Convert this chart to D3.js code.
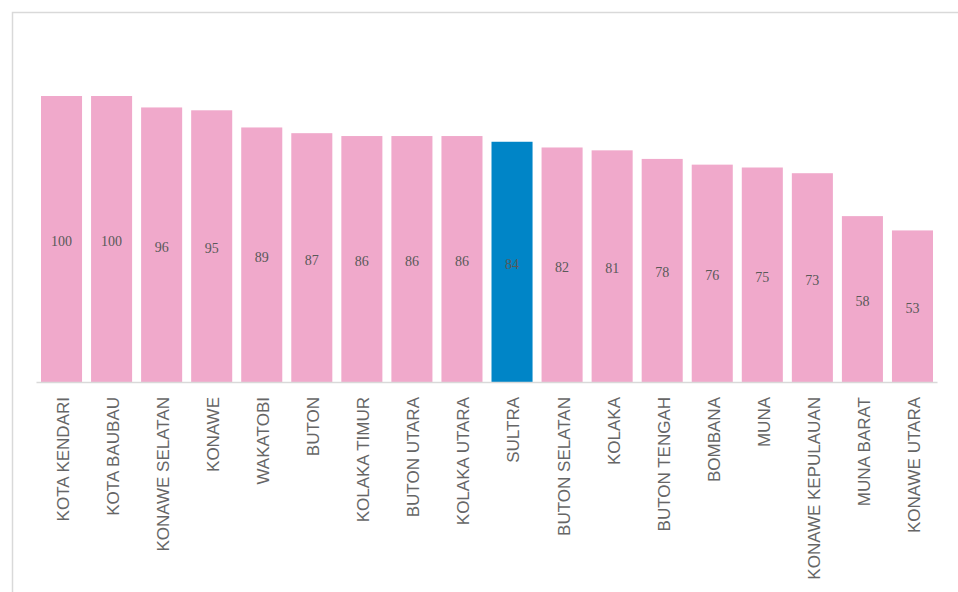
<!DOCTYPE html>
<html>
<head>
<meta charset="utf-8">
<style>
body { margin:0; background:#fff; }
svg { display:block; }
</style>
</head>
<body>
<svg id="svg"></svg>
<script src="https://cdnjs.cloudflare.com/ajax/libs/d3/7.8.5/d3.min.js"></script>
<script>
var categories = ['KOTA KENDARI','KOTA BAUBAU','KONAWE SELATAN','KONAWE','WAKATOBI','BUTON',
  'KOLAKA TIMUR','BUTON UTARA','KOLAKA UTARA','SULTRA','BUTON SELATAN','KOLAKA',
  'BUTON TENGAH','BOMBANA','MUNA','KONAWE KEPULAUAN','MUNA BARAT','KONAWE UTARA']
var values = [100,100,96,95,89,87,86,86,86,84,82,81,78,76,75,73,58,53]
var highlight = 'SULTRA'

var width = 958, height = 592
var chart = d3.select('#svg').attr('width', width).attr('height', height)

// outer frame (only top and left visible)
chart.append('rect')
  .attr('x', 12.5).attr('y', 12.5)
  .attr('width', 958).attr('height', 600)
  .attr('fill', 'none').attr('stroke', '#d9d9d9').attr('stroke-width', 1.5)

var xScale = d3.scaleBand()
  .domain(categories)
  .range([36.5, 937.5])
  .paddingInner(0.18)
  .paddingOuter(0.09)
var yScale = d3.scaleLinear()
  .domain([0, 100])
  .range([382, 96])

chart.selectAll('rect.bar')
  .data(values)
  .enter().append('rect')
  .attr('class', 'bar')
  .attr('x', function(d, i) { return xScale(categories[i]) })
  .attr('y', function(d) { return yScale(d) })
  .attr('width', xScale.bandwidth())
  .attr('height', function(d) { return yScale(0) - yScale(d) })
  .style('fill', function(d, i) { return categories[i] === highlight ? '#0085c7' : '#f0a9cb' })

chart.selectAll('text.val')
  .data(values)
  .enter().append('text')
  .attr('class', 'val')
  .attr('x', function(d, i) { return xScale(categories[i]) + xScale.bandwidth() / 2 })
  .attr('y', function(d) { return (yScale(d) + yScale(0)) / 2 + 7 })
  .attr('text-anchor', 'middle')
  .style('font-family', '"Liberation Serif", "DejaVu Serif", serif')
  .style('font-size', '14px')
  .style('fill', '#595959')
  .text(function(d) { return d })

var xAxis = d3.axisBottom(xScale).tickSize(0).tickPadding(0)
var gx = chart.append('g')
  .attr('transform', 'translate(0,382)')
  .call(xAxis)
gx.select('.domain').attr('stroke', '#d9d9d9').attr('stroke-width', 1.5)
  .attr('d', 'M36.5,0.5H937.5')
gx.selectAll('.tick text')
  .attr('transform', 'translate(1.5,15) rotate(-90)')
  .attr('x', 0).attr('y', 0).attr('dy', '0.35em')
  .attr('text-anchor', 'end')
  .style('font-family', '"Liberation Sans", Arial, sans-serif')
  .style('font-size', '17px')
  .style('fill', '#666666')
</script>
</body>
</html>
